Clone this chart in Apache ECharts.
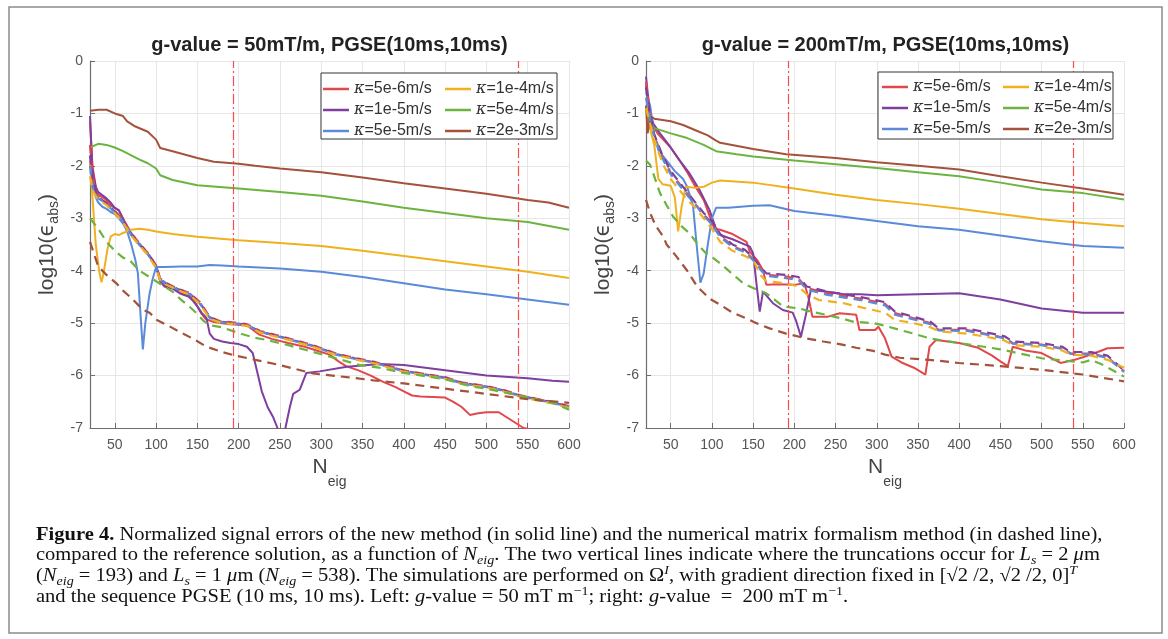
<!DOCTYPE html>
<html>
<head>
<meta charset="utf-8">
<script src="https://cdn.jsdelivr.net/npm/echarts@6/dist/echarts.min.js"></script>
<style>
  html, body { margin: 0; padding: 0; background: #fff; }
  #chart-panel { width: 1168px; height: 639px; }
</style>
</head>
<body>
<div id="chart-panel"></div>
<script>
var chart = echarts.init(document.getElementById('chart-panel'));

// tick labels / reference lines
var xTicks = [50, 100, 150, 200, 250, 300, 350, 400, 450, 500, 550, 600];
var cutLines = [193, 538];
var titles = ['g-value = 50mT/m, PGSE(10ms,10ms)', 'g-value = 200mT/m, PGSE(10ms,10ms)'];
var kappaNames = ['κ=5e-6m/s', 'κ=1e-5m/s', 'κ=5e-5m/s', 'κ=1e-4m/s', 'κ=5e-4m/s', 'κ=2e-3m/s'];
var colors = ['#e2474b', '#7e3f9e', '#5b8bd8', '#efb120', '#6cb440', '#a4523c'];

// ---- left panel (50 mT/m), solid = new method ----
var L_red = [[20,-1.15],[23,-2.0],[27,-2.4],[30,-2.55],[40,-2.65],[45,-2.75],[50,-2.8],[55,-2.85],[60,-3.0],[65,-3.15],[70,-3.3],[75,-3.42],[80,-3.5],[85,-3.6],[90,-3.68],[95,-3.78],[100,-3.92],[105,-4.2],[110,-4.28],[120,-4.32],[130,-4.42],[140,-4.48],[145,-4.55],[150,-4.68],[155,-4.82],[160,-4.92],[170,-4.98],[180,-5.0],[190,-5.02],[200,-5.03],[210,-5.05],[215,-5.1],[225,-5.22],[240,-5.3],[260,-5.38],[280,-5.45],[300,-5.55],[310,-5.6],[320,-5.72],[330,-5.82],[345,-5.9],[360,-6.0],[375,-6.12],[390,-6.22],[400,-6.3],[410,-6.38],[420,-6.4],[450,-6.42],[460,-6.5],[470,-6.6],[480,-6.75],[490,-6.72],[500,-6.7],[515,-6.7],[525,-6.8],[535,-6.9],[545,-7.0],[560,-7.05]];
var L_purple = [[20,-1.05],[23,-2.1],[27,-2.4],[30,-2.5],[40,-2.62],[45,-2.7],[50,-2.8],[55,-2.85],[60,-3.02],[65,-3.18],[70,-3.32],[75,-3.42],[80,-3.5],[85,-3.6],[90,-3.68],[95,-3.78],[100,-3.9],[105,-4.2],[110,-4.3],[120,-4.34],[130,-4.44],[140,-4.5],[145,-4.58],[150,-4.68],[155,-4.8],[161,-4.9],[165,-5.2],[170,-5.3],[180,-5.35],[190,-5.38],[200,-5.4],[210,-5.45],[217,-5.57],[222,-5.9],[228,-6.3],[235,-6.6],[242,-6.8],[247,-7.0],[250,-7.2],[254,-7.2],[257,-6.97],[262,-6.6],[266,-6.35],[274,-6.27],[282,-5.95],[298,-5.92],[331,-5.83],[371,-5.78],[400,-5.8],[450,-5.9],[500,-6.0],[550,-6.05],[580,-6.1],[600,-6.12]];
var L_blue = [[20,-1.9],[23,-2.3],[27,-2.6],[30,-2.7],[35,-2.78],[40,-2.82],[45,-2.88],[50,-2.92],[55,-3.0],[60,-3.1],[65,-3.25],[70,-3.5],[75,-3.8],[78,-4.05],[81,-4.8],[84,-5.5],[87,-5.0],[92,-4.45],[96,-4.15],[100,-3.93],[110,-3.93],[130,-3.92],[150,-3.92],[165,-3.89],[180,-3.9],[200,-3.92],[250,-3.96],[300,-4.02],[350,-4.12],[400,-4.24],[450,-4.36],[500,-4.45],[550,-4.55],[600,-4.65]];
var L_yellow = [[20,-1.9],[23,-2.6],[27,-3.5],[31,-4.0],[34,-4.22],[37,-4.0],[41,-3.6],[45,-3.35],[50,-3.3],[55,-3.32],[60,-3.28],[70,-3.22],[80,-3.2],[90,-3.22],[100,-3.25],[120,-3.3],[150,-3.35],[200,-3.42],[250,-3.47],[300,-3.53],[350,-3.62],[400,-3.72],[450,-3.82],[500,-3.92],[550,-4.02],[600,-4.14]];
var L_green = [[20,-1.65],[30,-1.58],[40,-1.6],[50,-1.65],[60,-1.72],[70,-1.8],[80,-1.88],[90,-1.95],[100,-2.05],[105,-2.18],[120,-2.27],[150,-2.37],[200,-2.43],[250,-2.5],[300,-2.57],[350,-2.68],[400,-2.8],[450,-2.9],[500,-3.0],[550,-3.07],[600,-3.22]];
var L_brown = [[20,-0.95],[30,-0.93],[40,-0.93],[50,-1.0],[60,-1.05],[65,-1.15],[75,-1.25],[90,-1.35],[100,-1.5],[105,-1.66],[120,-1.72],[150,-1.85],[170,-1.92],[200,-1.96],[220,-2.0],[250,-2.05],[300,-2.12],[350,-2.22],[400,-2.33],[450,-2.43],[500,-2.53],[550,-2.65],[575,-2.7],[600,-2.8]];

// ---- left panel, dashed = matrix formalism ----
var Ld_red = [[20,-1.6],[23,-2.2],[27,-2.5],[30,-2.58],[40,-2.7],[50,-2.86],[60,-3.03],[70,-3.28],[80,-3.48],[90,-3.66],[100,-3.9],[105,-4.15],[113,-4.24],[125,-4.33],[141,-4.43],[153,-4.6],[165,-4.88],[177,-4.96],[195,-4.99],[210,-5.02],[226,-5.15],[258,-5.28],[290,-5.42],[318,-5.58],[343,-5.67],[365,-5.74],[400,-5.9],[430,-5.98],[450,-6.03],[470,-6.13],[500,-6.2],[520,-6.27],[540,-6.37],[560,-6.44],[580,-6.5],[600,-6.58]];
var Ld_purple = [[20,-1.8],[23,-2.25],[27,-2.5],[30,-2.6],[40,-2.71],[50,-2.87],[60,-3.04],[70,-3.29],[80,-3.49],[90,-3.67],[100,-3.91],[105,-4.16],[113,-4.25],[125,-4.34],[141,-4.44],[153,-4.61],[165,-4.89],[177,-4.97],[195,-5.0],[210,-5.03],[226,-5.16],[258,-5.29],[290,-5.43],[318,-5.59],[343,-5.68],[365,-5.75],[400,-5.91],[430,-5.99],[450,-6.04],[470,-6.14],[500,-6.21],[520,-6.28],[540,-6.38],[560,-6.45],[580,-6.51],[600,-6.59]];
var Ld_blue = [[20,-2.0],[23,-2.4],[27,-2.55],[30,-2.62],[40,-2.73],[50,-2.89],[60,-3.06],[70,-3.31],[80,-3.51],[90,-3.69],[100,-3.93],[105,-4.17],[113,-4.26],[125,-4.35],[141,-4.45],[153,-4.63],[165,-4.9],[177,-4.98],[195,-5.01],[210,-5.04],[226,-5.17],[258,-5.3],[290,-5.44],[318,-5.6],[343,-5.69],[365,-5.76],[400,-5.92],[430,-6.0],[450,-6.05],[470,-6.15],[500,-6.22],[520,-6.29],[540,-6.39],[560,-6.46],[580,-6.52],[600,-6.6]];
var Ld_yellow = [[20,-2.2],[23,-2.45],[27,-2.58],[30,-2.64],[40,-2.75],[50,-2.9],[60,-3.08],[70,-3.33],[80,-3.52],[90,-3.7],[100,-3.95],[105,-4.18],[113,-4.27],[125,-4.36],[141,-4.46],[153,-4.64],[165,-4.91],[177,-4.99],[195,-5.02],[210,-5.05],[226,-5.18],[258,-5.31],[290,-5.45],[318,-5.61],[343,-5.7],[365,-5.77],[400,-5.93],[430,-6.01],[450,-6.06],[470,-6.16],[500,-6.23],[520,-6.3],[540,-6.4],[560,-6.47],[580,-6.53],[600,-6.62]];
var Ld_green = [[20,-3.0],[30,-3.2],[40,-3.45],[50,-3.62],[60,-3.75],[68,-3.8],[80,-4.0],[90,-4.1],[101,-4.21],[110,-4.3],[120,-4.4],[130,-4.55],[140,-4.68],[149,-4.81],[157,-4.95],[165,-5.04],[180,-5.08],[202,-5.2],[220,-5.28],[234,-5.32],[260,-5.42],[290,-5.55],[320,-5.68],[347,-5.8],[370,-5.85],[400,-5.95],[430,-6.02],[450,-6.07],[480,-6.2],[500,-6.25],[530,-6.35],[560,-6.45],[580,-6.52],[600,-6.65]];
var Ld_brown = [[20,-3.45],[30,-3.92],[40,-4.08],[52,-4.24],[60,-4.38],[70,-4.52],[80,-4.68],[85,-4.75],[92,-4.8],[101,-4.94],[115,-5.05],[130,-5.18],[145,-5.3],[161,-5.45],[180,-5.55],[194,-5.61],[220,-5.7],[250,-5.8],[290,-5.96],[331,-6.03],[363,-6.09],[400,-6.15],[450,-6.25],[500,-6.35],[550,-6.45],[600,-6.52]];

// ---- right panel (200 mT/m), solid ----
var R_red = [[20,-0.45],[23,-0.9],[27,-1.2],[35,-1.4],[50,-1.65],[60,-1.88],[70,-2.12],[80,-2.4],[90,-2.65],[97,-2.95],[103,-3.2],[110,-3.22],[125,-3.3],[142,-3.45],[146,-3.64],[155,-3.8],[162,-3.99],[166,-4.27],[180,-4.26],[200,-4.27],[212,-4.24],[217,-4.5],[222,-4.88],[240,-4.88],[255,-4.81],[275,-4.84],[279,-5.13],[298,-5.13],[302,-5.07],[310,-5.29],[318,-5.64],[330,-5.75],[345,-5.85],[359,-5.98],[364,-5.45],[372,-5.32],[400,-5.38],[423,-5.47],[440,-5.62],[450,-5.73],[459,-5.82],[465,-5.45],[480,-5.52],[500,-5.57],[523,-5.76],[540,-5.7],[550,-5.65],[565,-5.57],[580,-5.48],[600,-5.47]];
var R_purple = [[20,-0.3],[22,-0.6],[25,-1.0],[29,-1.2],[37,-1.38],[49,-1.63],[61,-1.9],[73,-2.15],[85,-2.46],[97,-2.84],[104,-3.16],[110,-3.32],[125,-3.4],[146,-3.54],[150,-3.67],[154,-4.24],[158,-4.78],[162,-4.4],[174,-4.62],[186,-4.75],[198,-4.8],[202,-4.95],[208,-5.26],[214,-4.84],[220,-4.37],[240,-4.4],[260,-4.45],[280,-4.45],[300,-4.47],[350,-4.45],[400,-4.43],[450,-4.55],[500,-4.72],[550,-4.8],[600,-4.8]];
var R_blue = [[20,-0.6],[25,-0.85],[30,-1.4],[35,-1.7],[45,-1.9],[55,-2.1],[65,-2.25],[70,-2.4],[77,-2.75],[82,-3.6],[86,-4.23],[90,-4.05],[95,-3.5],[100,-3.0],[105,-2.8],[120,-2.8],[150,-2.76],[170,-2.75],[200,-2.86],[250,-2.95],[300,-3.05],[350,-3.15],[400,-3.22],[450,-3.33],[500,-3.44],[550,-3.53],[600,-3.56]];
var R_yellow = [[20,-0.9],[25,-1.3],[30,-1.6],[35,-2.25],[40,-2.35],[50,-2.38],[55,-2.6],[59,-3.25],[63,-2.8],[68,-2.4],[80,-2.42],[90,-2.4],[100,-2.32],[110,-2.28],[150,-2.32],[200,-2.43],[250,-2.55],[300,-2.65],[350,-2.73],[400,-2.82],[450,-2.92],[500,-3.02],[550,-3.09],[600,-3.15]];
var R_green = [[20,-0.9],[25,-1.2],[30,-1.28],[50,-1.38],[70,-1.47],[90,-1.6],[105,-1.72],[130,-1.78],[150,-1.82],[200,-1.9],[250,-1.97],[300,-2.04],[350,-2.12],[400,-2.2],[450,-2.32],[500,-2.45],[550,-2.52],[600,-2.64]];
var R_brown = [[20,-0.85],[22,-1.38],[25,-1.05],[30,-1.1],[50,-1.15],[65,-1.22],[80,-1.32],[95,-1.42],[105,-1.52],[110,-1.56],[150,-1.68],[190,-1.78],[250,-1.85],[300,-1.93],[350,-2.0],[400,-2.07],[450,-2.2],[500,-2.32],[550,-2.43],[600,-2.55]];

// ---- right panel, dashed ----
var Rd_red = [[20,-0.4],[25,-1.05],[30,-1.43],[40,-1.83],[50,-2.13],[60,-2.33],[70,-2.53],[80,-2.73],[90,-2.93],[100,-3.08],[110,-3.33],[125,-3.53],[140,-3.63],[150,-3.78],[160,-3.98],[166,-4.08],[190,-4.11],[205,-4.15],[215,-4.33],[240,-4.43],[280,-4.53],[310,-4.63],[322,-4.81],[345,-4.91],[365,-5.0],[375,-5.13],[410,-5.13],[440,-5.23],[455,-5.28],[465,-5.38],[500,-5.41],[525,-5.48],[535,-5.58],[560,-5.58],[580,-5.65],[600,-5.92]];
var Rd_purple = [[20,-0.5],[25,-1.0],[30,-1.4],[40,-1.8],[50,-2.1],[60,-2.3],[70,-2.5],[80,-2.7],[90,-2.9],[100,-3.05],[110,-3.3],[125,-3.5],[140,-3.6],[150,-3.75],[160,-3.95],[166,-4.05],[190,-4.08],[205,-4.12],[215,-4.3],[240,-4.4],[280,-4.5],[310,-4.6],[322,-4.78],[345,-4.88],[365,-4.97],[375,-5.1],[410,-5.1],[440,-5.2],[455,-5.25],[465,-5.35],[500,-5.38],[525,-5.45],[535,-5.55],[560,-5.55],[580,-5.62],[600,-5.9]];
var Rd_blue = [[20,-0.7],[25,-1.1],[30,-1.45],[40,-1.86],[50,-2.16],[60,-2.36],[70,-2.56],[80,-2.74],[90,-2.95],[100,-3.12],[110,-3.36],[125,-3.55],[140,-3.65],[150,-3.8],[160,-4.0],[166,-4.1],[190,-4.14],[205,-4.18],[215,-4.36],[240,-4.46],[280,-4.56],[310,-4.66],[322,-4.84],[345,-4.93],[365,-5.02],[375,-5.14],[410,-5.15],[440,-5.24],[455,-5.29],[465,-5.39],[500,-5.42],[525,-5.49],[535,-5.58],[560,-5.6],[580,-5.66],[600,-5.93]];
var Rd_yellow = [[20,-0.9],[25,-1.2],[30,-1.5],[40,-1.95],[50,-2.25],[60,-2.45],[70,-2.65],[80,-2.8],[90,-3.0],[100,-3.2],[110,-3.45],[125,-3.62],[140,-3.72],[150,-3.8],[160,-4.1],[166,-4.2],[190,-4.24],[205,-4.3],[215,-4.45],[230,-4.56],[260,-4.62],[287,-4.72],[310,-4.8],[322,-4.94],[345,-5.0],[365,-5.08],[376,-5.16],[410,-5.2],[440,-5.28],[455,-5.33],[465,-5.42],[500,-5.45],[525,-5.52],[535,-5.6],[560,-5.62],[580,-5.7],[600,-5.85]];
var Rd_green = [[20,-1.9],[25,-1.98],[30,-2.2],[37,-2.52],[45,-2.75],[53,-2.97],[63,-3.15],[73,-3.29],[83,-3.5],[93,-3.67],[101,-3.75],[110,-3.86],[124,-4.05],[138,-4.24],[150,-4.33],[166,-4.43],[176,-4.55],[186,-4.68],[206,-4.72],[220,-4.78],[238,-4.84],[255,-4.9],[271,-4.97],[296,-5.0],[310,-5.05],[328,-5.13],[345,-5.2],[364,-5.29],[400,-5.38],[430,-5.45],[450,-5.5],[480,-5.6],[500,-5.67],[530,-5.72],[550,-5.75],[560,-5.7],[575,-5.8],[600,-6.02]];
var Rd_brown = [[20,-2.65],[25,-2.9],[32,-3.15],[41,-3.35],[45,-3.5],[57,-3.73],[70,-4.0],[82,-4.3],[97,-4.53],[110,-4.65],[125,-4.8],[140,-4.9],[154,-5.0],[170,-5.1],[190,-5.2],[214,-5.29],[235,-5.35],[255,-5.4],[275,-5.47],[296,-5.53],[310,-5.6],[328,-5.66],[364,-5.7],[400,-5.76],[450,-5.82],[500,-5.89],[550,-5.98],[600,-6.11]];

var solidSets = [
    [L_red, L_purple, L_blue, L_yellow, L_green, L_brown],
    [R_red, R_purple, R_blue, R_yellow, R_green, R_brown]
];
var dashedSets = [
    [Ld_red, Ld_purple, Ld_blue, Ld_yellow, Ld_green, Ld_brown],
    [Rd_red, Rd_purple, Rd_blue, Rd_yellow, Rd_green, Rd_brown]
];

var sansFont = "'Liberation Sans', Arial, sans-serif";
var serifFont = "'Liberation Serif', 'Times New Roman', serif";
var gridLeft = [90, 646];

function makeAxes(i) {
    var xAxis = {
        gridIndex: i, type: 'value', min: 20, max: 600,
        axisLine: { show: true, onZero: false, lineStyle: { color: '#6e6e6e', width: 1.2 } },
        axisTick: { show: true, inside: true, length: 5, customValues: xTicks, lineStyle: { color: '#6e6e6e' } },
        axisLabel: { customValues: xTicks, color: '#555', fontSize: 14, fontFamily: sansFont, margin: 10 },
        splitLine: { show: true, lineStyle: { color: '#e6e6e6', width: 1 } },
        name: '{n|N}{s|eig}', nameLocation: 'middle', nameGap: 26,
        nameTextStyle: {
            rich: {
                n: { fontSize: 21, fontFamily: sansFont, color: '#444', lineHeight: 32, verticalAlign: 'top' },
                s: { fontSize: 14, fontFamily: sansFont, color: '#444', lineHeight: 14, verticalAlign: 'bottom' }
            }
        }
    };
    var yAxis = {
        gridIndex: i, type: 'value', min: -7, max: 0, interval: 1,
        axisLine: { show: true, onZero: false, lineStyle: { color: '#6e6e6e', width: 1.2 } },
        axisTick: { show: true, inside: true, length: 5, lineStyle: { color: '#6e6e6e' } },
        axisLabel: { color: '#555', fontSize: 14, fontFamily: sansFont, margin: 7 },
        splitLine: { show: true, lineStyle: { color: '#e6e6e6', width: 1 } },
        name: '{a|log10(}{e|ϵ}{s|abs}{a|)}', nameLocation: 'middle', nameGap: 29, nameRotate: 90,
        nameTextStyle: {
            rich: {
                a: { fontSize: 21, fontFamily: sansFont, color: '#444', lineHeight: 24, verticalAlign: 'top' },
                e: { fontSize: 21, fontFamily: "'DejaVu Sans', sans-serif", color: '#444', lineHeight: 24, verticalAlign: 'top' },
                s: { fontSize: 14, fontFamily: sansFont, color: '#444', lineHeight: 14, verticalAlign: 'bottom' }
            }
        }
    };
    return [xAxis, yAxis];
}

function makeLegend(left, top, names) {
    return {
        orient: 'vertical', left: left, top: top, padding: 0, itemGap: 5,
        icon: 'rect', itemWidth: 26, itemHeight: 2.5, z: 20, selectedMode: false,
        data: names,
        textStyle: {
            fontSize: 16, fontFamily: sansFont, color: '#333', lineHeight: 16,
            rich: { k: { fontSize: 16, fontStyle: 'italic', fontFamily: "'DejaVu Serif', serif", color: '#333' } }
        },
        formatter: function (name) { return '{k|κ}' + name.slice(1); }
    };
}

var series = [];
for (var g = 0; g < 2; g++) {
    for (var k = 0; k < 6; k++) {
        var s = {
            name: kappaNames[k], type: 'line', xAxisIndex: g, yAxisIndex: g,
            data: solidSets[g][k], showSymbol: false, symbol: 'none', animation: false,
            lineStyle: { color: colors[k], width: 2 }, itemStyle: { color: colors[k] }
        };
        if (k === 0) {
            s.markLine = {
                silent: true, symbol: 'none', animation: false,
                label: { show: false },
                lineStyle: { color: '#ff4a4a', width: 1.2, type: [10, 3, 2, 3] },
                data: cutLines.map(function (v) { return { xAxis: v }; })
            };
        }
        series.push(s);
    }
    // dashed: matrix formalism
    for (var k2 = 0; k2 < 6; k2++) {
        series.push({
            name: kappaNames[k2] + ' (MF)', type: 'line', xAxisIndex: g, yAxisIndex: g,
            data: dashedSets[g][k2], showSymbol: false, symbol: 'none', animation: false,
            lineStyle: { color: colors[k2], width: 2.2, type: [9, 6] }, itemStyle: { color: colors[k2] }
        });
    }
}

var axesL = makeAxes(0), axesR = makeAxes(1);

// caption: Times-like, slightly widened to match the justified page width
var capSize = 19, capSmall = 13, capStretch = 1.08;
var captionRich = {
    b: { fontWeight: 'bold', fontFamily: serifFont, fontSize: capSize, fill: '#111' },
    i: { fontStyle: 'italic', fontFamily: serifFont, fontSize: capSize, fill: '#111' },
    sub: { fontStyle: 'italic', fontFamily: serifFont, fontSize: capSmall, lineHeight: capSmall, verticalAlign: 'bottom', fill: '#111' },
    sup: { fontFamily: serifFont, fontSize: capSmall, lineHeight: capSmall, verticalAlign: 'top', fill: '#111' },
    supi: { fontStyle: 'italic', fontFamily: serifFont, fontSize: capSmall, lineHeight: capSmall, verticalAlign: 'top', fill: '#111' }
};
var captionLines = [
    '{b|Figure 4.} Normalized signal errors of the new method (in solid line) and the numerical matrix formalism method (in dashed line),',
    'compared to the reference solution, as a function of {i|N}{sub|eig}. The two vertical lines indicate where the truncations occur for {i|L}{sub|s} = 2 {i|μ}m',
    '({i|N}{sub|eig} = 193) and {i|L}{sub|s} = 1 {i|μ}m ({i|N}{sub|eig} = 538). The simulations are performed on Ω{supi|I}, with gradient direction fixed in [√2 /2, √2 /2, 0]{supi|T}',
    'and the sequence PGSE (10 ms, 10 ms). Left: {i|g}-value = 50 mT m{sup|−1}; right: {i|g}-value  =  200 mT m{sup|−1}.'
];
var captionTop = [523, 543, 564, 585];

var graphics = [
    { type: 'rect', z: 0, silent: true, shape: { x: 9, y: 7, width: 1153, height: 626 },
      style: { fill: 'none', stroke: '#8c8c8c', lineWidth: 1.5 } },
    { type: 'rect', z: 10, silent: true, shape: { x: 321, y: 73, width: 236, height: 66 },
      style: { fill: '#fff', stroke: '#333', lineWidth: 1 } },
    { type: 'rect', z: 10, silent: true, shape: { x: 878, y: 72, width: 235, height: 67 },
      style: { fill: '#fff', stroke: '#333', lineWidth: 1 } }
];
captionLines.forEach(function (line, i) {
    graphics.push({
        type: 'text', x: 36, y: captionTop[i], scaleX: capStretch, z: 5, silent: true,
        style: { text: line, fontFamily: serifFont, fontSize: capSize, fill: '#111', lineHeight: 24, rich: captionRich }
    });
});

var option = {
    backgroundColor: '#fff',
    animation: false,
    title: [
        { text: titles[0], left: 329.5, top: 35, textAlign: 'center', padding: 0,
          textStyle: { fontSize: 20, fontWeight: 'bold', fontFamily: sansFont, color: '#222' } },
        { text: titles[1], left: 885.5, top: 35, textAlign: 'center', padding: 0,
          textStyle: { fontSize: 20, fontWeight: 'bold', fontFamily: sansFont, color: '#222' } }
    ],
    grid: [
        { left: gridLeft[0], top: 61, width: 479, height: 367 },
        { left: gridLeft[1], top: 61, width: 478, height: 367 }
    ],
    xAxis: [axesL[0], axesR[0]],
    yAxis: [axesL[1], axesR[1]],
    legend: [
        makeLegend(323, 81, [kappaNames[0], kappaNames[1], kappaNames[2]]),
        makeLegend(445, 81, [kappaNames[3], kappaNames[4], kappaNames[5]]),
        makeLegend(882, 79, [kappaNames[0], kappaNames[1], kappaNames[2]]),
        makeLegend(1003, 79, [kappaNames[3], kappaNames[4], kappaNames[5]])
    ],
    graphic: graphics,
    series: series
};

chart.setOption(option);
</script>
</body>
</html>
